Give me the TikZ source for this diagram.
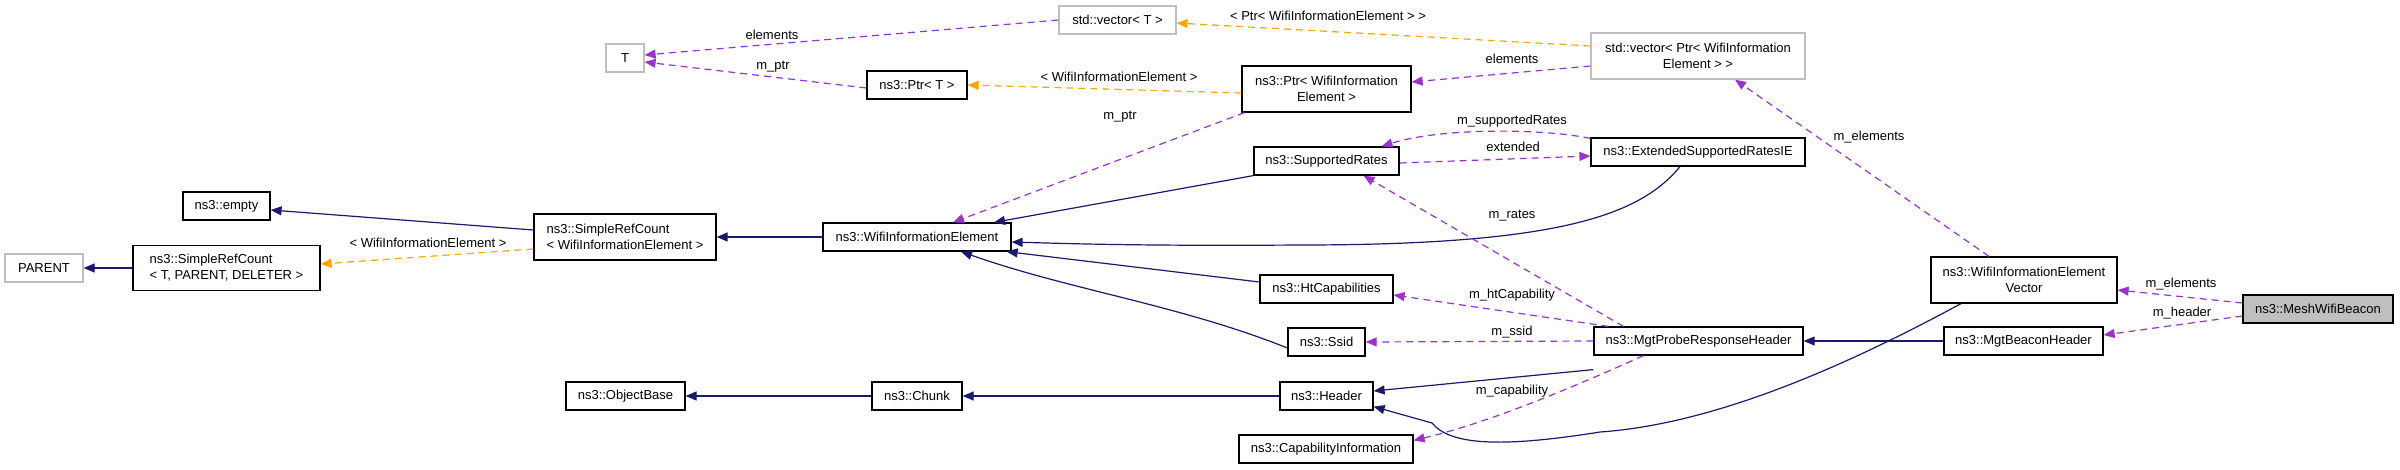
\documentclass[tikz,border=0pt]{standalone}
\usepackage{fontspec}
\setmainfont{Liberation Sans}
\usetikzlibrary{arrows.meta}
\definecolor{navy}{HTML}{191970}
\definecolor{purp}{HTML}{9A32CD}
\definecolor{orng}{HTML}{FFA500}
\definecolor{gbord}{HTML}{BFBFBF}
\begin{document}
\begin{tikzpicture}[x=1pt,y=-1pt,
  box/.style={draw=black,line width=1.2pt,rectangle,minimum height=28pt,inner sep=2pt,font=\fontsize{13}{16}\selectfont,align=center},
  gbox/.style={box,draw=gbord},
  lab/.style={font=\fontsize{13}{16}\selectfont,inner sep=0pt},
  tip/.style={-{Triangle[length=11pt,width=9pt]}},
  inh/.style={tip,draw=navy,line width=1.2pt},
  use/.style={tip,draw=purp,line width=1.2pt,dash pattern=on 7pt off 5pt},
  tpl/.style={tip,draw=orng,line width=1.2pt,dash pattern=on 7pt off 5pt}]
\useasboundingbox (0,0) rectangle (2400,469);
% nodes
\node[gbox,minimum width=78pt] (PARENT) at (44,268) {PARENT};
\node[box,minimum width=187pt,minimum height=45pt,align=left] (SRCT) at (226.5,268) {ns3::SimpleRefCount\\< T, PARENT, DELETER >};
\node[box,minimum width=87pt] (empty) at (226.5,206) {ns3::empty};
\node[box,minimum width=182pt,minimum height=46pt,align=left] (SRCW) at (625,237) {ns3::SimpleRefCount\\< WifiInformationElement >};
\node[gbox,minimum width=38pt] (T) at (625,58) {T};
\node[box,minimum width=119pt] (OB) at (625.5,396) {ns3::ObjectBase};
\node[gbox,minimum width=117pt] (vT) at (1117.5,20) {std::vector< T >};
\node[box,minimum width=100pt] (pT) at (917,85) {ns3::Ptr< T >};
\node[box,minimum width=169pt,minimum height=46pt] (pW) at (1326.5,89) {ns3::Ptr< WifiInformation\\Element >};
\node[box,minimum width=145pt] (SR) at (1326.5,161) {ns3::SupportedRates};
\node[box,minimum width=188pt] (WIE) at (917,237) {ns3::WifiInformationElement};
\node[box,minimum width=133pt] (HT) at (1326.5,289) {ns3::HtCapabilities};
\node[box,minimum width=77pt] (Ssid) at (1326.5,342) {ns3::Ssid};
\node[box,minimum width=90pt] (Chunk) at (917,396) {ns3::Chunk};
\node[box,minimum width=93pt] (Header) at (1326.5,396) {ns3::Header};
\node[box,minimum width=174pt] (Cap) at (1326,449) {ns3::CapabilityInformation};
\node[gbox,minimum width=214pt,minimum height=46pt] (vPW) at (1698,56) {std::vector< Ptr< WifiInformation\\Element > >};
\node[box,minimum width=214pt] (ESR) at (1698,152) {ns3::ExtendedSupportedRatesIE};
\node[box,minimum width=209pt] (MPR) at (1698.5,341) {ns3::MgtProbeResponseHeader};
\node[box,minimum width=186pt,minimum height=46pt] (WIEV) at (2024,280) {ns3::WifiInformationElement\\Vector};
\node[box,minimum width=159pt] (MBH) at (2023.5,341) {ns3::MgtBeaconHeader};
\node[box,minimum width=150pt,fill=gbord] (MWB) at (2318,309) {ns3::MeshWifiBeacon};
% inheritance
\draw[inh] (SRCT.west) -- (PARENT.east);
\draw[inh] ([yshift=7pt]SRCW.west) -- ([yshift=-4pt]empty.east);
\draw[inh] (WIE.west) -- (SRCW.east);
\draw[inh] (Chunk.west) -- (OB.east);
\draw[inh] (Header.west) -- (Chunk.east);
\draw[inh] (SR.south west) -- ([xshift=77pt]WIE.north);
\draw[inh] ([xshift=-18pt]ESR.south) .. controls (1640,215) and (1560,245) .. (1300,245) .. controls (1150,246) and (1080,244) .. ([yshift=-5pt]WIE.east);
\draw[inh] ([yshift=7pt]HT.west) -- ([xshift=-5pt]WIE.south east);
\draw[inh] ([yshift=-6pt]Ssid.west) .. controls (1180,305) and (1070,290) .. ([xshift=44pt]WIE.south);
\draw[inh] ([yshift=-14pt]MPR.south west) -- ([yshift=5pt]Header.east);
\draw[inh] (MBH.west) -- (MPR.east);
\draw[inh] ([xshift=-63pt]WIEV.south) .. controls (1820,380) and (1700,425) .. (1600,432) .. controls (1500,448) and (1450,445) .. (1432,423) -- ([yshift=4pt]Header.south east);
% templates
\draw[tpl] ([yshift=-12pt]SRCW.west) -- ([yshift=4pt]SRCT.east);
\draw[tpl] ([yshift=-4pt]pW.west) -- (pT.east);
\draw[tpl] ([yshift=10pt]vPW.west) -- ([yshift=-3pt]vT.east);
% usage
\draw[use] (vT.west) -- ([yshift=3pt]T.east);
\draw[use] ([yshift=-3pt]pT.west) -- ([yshift=-4pt]T.east);
\draw[use] ([xshift=-82pt]pW.south) -- ([xshift=36pt]WIE.north);
\draw[use] ([yshift=-10pt]vPW.west) -- ([yshift=7pt]pW.east);
\draw[use] ([yshift=-1pt]ESR.north west) .. controls (1540,128) and (1440,128) .. ([xshift=55pt]SR.north);
\draw[use] ([yshift=-2pt]SR.east) -- ([yshift=-4pt]ESR.west);
\draw[use] (MPR.north west) ++(30,0) -- ([xshift=37pt]SR.south);
\draw[use] (MPR.north west) ++(15,0) -- ([yshift=-6pt]HT.east);
\draw[use] (MPR.west) -- (Ssid.east);
\draw[use] ([xshift=-55pt]MPR.south) .. controls (1600,375) and (1500,420) .. ([yshift=-6pt]Cap.north east);
\draw[use] ([xshift=-35pt]WIEV.north) -- ([xshift=37pt]vPW.south);
\draw[use] ([yshift=6pt]MWB.west) -- ([yshift=-10pt]WIEV.east);
\draw[use] ([yshift=-7pt]MWB.west) -- ([yshift=6pt]MBH.east);
% labels
\node[lab] (l1) at (772,35) {elements};
\node[lab] (l2) at (773,67) {m\_ptr};
\node[lab] (l3) at (428,243) {< WifiInformationElement >};
\node[lab] (l4) at (1328,16) {< Ptr< WifiInformationElement > >};
\node[lab] (l5) at (1119,77) {< WifiInformationElement >};
\node[lab] (l6) at (1512,59) {elements};
\node[lab] (l7) at (1120,117) {m\_ptr};
\node[lab] (l8) at (1512,121) {m\_supportedRates};
\node[lab] (l9) at (1513,147) {extended};
\node[lab] (l10) at (1512,216) {m\_rates};
\node[lab] (l11) at (1512,295) {m\_htCapability};
\node[lab] (l12) at (1512,332) {m\_ssid};
\node[lab] (l13) at (1512,391) {m\_capability};
\node[lab] (l14) at (1869,137) {m\_elements};
\node[lab] (l15) at (2181,284) {m\_elements};
\node[lab] (l16) at (2182,313) {m\_header};
\end{tikzpicture}
\end{document}
